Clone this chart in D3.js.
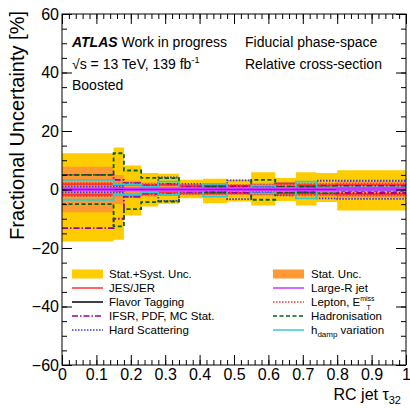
<!DOCTYPE html>
<html><head><meta charset="utf-8">
<script src="https://cdn.jsdelivr.net/npm/d3@7"></script>
<style>body{margin:0;background:#fff} text{font-family:"Liberation Sans",Arial,Helvetica,sans-serif}</style>
</head><body><svg id="c" width="410" height="408"></svg>
<script>
const binEdges = [0, 0.15, 0.18, 0.23, 0.28, 0.34, 0.41, 0.48, 0.55, 0.62, 0.68, 0.74, 0.80, 1.0];
const totalUp   = [12.4, 14.4, 8.2, 5.6, 5.4, 3.3, 3.7, 3.3, 5.9, 3.9, 5.9, 5.6, 6.6];
const totalDown = [-17.8, -17.2, -8.9, -5.8, -4.9, -3.0, -4.7, -4.1, -5.5, -3.9, -5.5, -4.3, -7.2];
const statUp    = [7.8, 5.0, 3.0, 2.4, 2.2, 1.6, 1.9, 1.8, 2.3, 2.0, 2.4, 2.4, 2.8];
const statDown  = [-7.8, -5.0, -3.0, -2.4, -2.2, -1.6, -1.9, -1.8, -2.3, -2.0, -2.4, -2.4, -2.8];
const jesUp     = [1.8, 1.5, 1.6, 1.4, 1.6, 1.2, 1.3, 1.2, 1.3, 2.1, 1.5, 1.4, 1.6];
const jesDown   = [-1.8, -1.8, -1.8, -1.3, -1.0, -1.3, -1.3, -1.2, -1.3, -1.3, -1.4, -1.4, -1.6];
const largeRUp  = [0.4, 0.5, 0.4, 0.4, 0.4, 0.4, 0.4, 0.4, 0.4, 0.4, 0.4, 0.4, 0.5];
const largeRDown= [-0.3, -0.5, -0.3, -0.3, -0.3, -0.3, -0.3, -0.3, -0.3, -0.3, -0.3, -0.3, -0.1];
const flavUp    = [0.2, 0.3, 0.2, 0.2, 0.2, 0.2, 0.2, 0.2, 0.2, 0.2, 0.2, 0.2, 0.2];
const flavDown  = [-0.2, -0.3, -0.2, -0.2, -0.2, -0.2, -0.2, -0.2, -0.2, -0.2, -0.2, -0.2, -0.2];
const lepUp     = [2.2, 2.0, 2.0, 1.8, 1.8, 1.5, 1.6, 1.5, 1.6, 1.8, 1.8, 1.8, 2.0];
const lepDown   = [-2.2, -2.0, -2.0, -1.8, -1.8, -1.5, -1.6, -1.5, -1.6, -1.8, -1.8, -1.8, -2.0];
const ifsrUp    = [5.0, 3.3, 2.2, 1.5, 1.9, 0.8, 1.0, 1.2, 1.2, 1.0, 1.0, 1.3, 1.2];
const ifsrDown  = [-13.2, -10.0, -2.4, -1.5, -1.5, -0.8, -1.0, -1.2, -1.2, -1.0, -1.0, -1.3, -1.2];
const hadUp     = [5.0, 12.4, 6.5, 4.0, 3.9, 0.5, 1.0, 0.5, 3.3, 1.0, 1.0, 0.8, 0.5];
const hadDown   = [-5.0, -12.6, -6.7, -4.3, -4.1, -0.5, -1.0, -0.5, -3.5, -1.0, -1.0, -0.8, -0.5];
const hsUp      = [1.0, 1.0, 2.2, 1.2, 4.1, 1.9, 1.0, 3.1, 1.0, 2.0, 1.0, 3.0, 3.0];
const hsDown    = [-1.0, -1.0, -2.4, -1.2, -3.9, -1.3, -1.0, -3.3, -1.0, -2.0, -1.0, -3.0, -3.2];
const hdampUp   = [3.3, 1.8, 1.7, 1.0, 2.7, 0.5, 1.9, 0.5, 1.3, 0.5, 2.7, 0.6, 0.7];
const hdampDown = [-3.5, -1.8, -1.8, -1.0, -1.8, -0.5, -2.4, -0.5, -1.3, -0.5, -3.0, -0.6, -0.3];
const xTicks = [0, 0.1, 0.2, 0.3, 0.4, 0.5, 0.6, 0.7, 0.8, 0.9, 1];
const yTicks = [-60, -40, -20, 0, 20, 40, 60];

const svg = d3.select("#c");
const L = 62, R = 406, T = 14, B = 365;
const x = d3.scaleLinear().domain([0, 1]).range([L, R]);
const y = d3.scaleLinear().domain([-60, 60]).range([B, T]);

function pts(v) {
  const p = v.map((d, i) => [binEdges[i], d]);
  p.push([binEdges[binEdges.length - 1], v[v.length - 1]]);
  return p;
}
function bandPts(lo, hi) {
  const p = lo.map((d, i) => [binEdges[i], d, hi[i]]);
  p.push([binEdges[binEdges.length - 1], lo[lo.length - 1], hi[hi.length - 1]]);
  return p;
}
const area = d3.area().curve(d3.curveStepAfter)
  .x(d => x(d[0])).y0(d => y(d[1])).y1(d => y(d[2]));
const line = d3.line().curve(d3.curveStepAfter).x(d => x(d[0])).y(d => y(d[1]));

const g = svg.append("g");
g.append("path").attr("d", area(bandPts(totalDown, totalUp))).attr("fill", "#FFCC00");
g.append("path").attr("d", area(bandPts(statDown, statUp))).attr("fill", "#FF9933");

const series = [
  {up: jesUp, dn: jesDown, color: "#FF3333", dash: null},
  {up: flavUp, dn: flavDown, color: "#000000", dash: null},
  {up: ifsrUp, dn: ifsrDown, color: "#990099", dash: "6,2,1.5,2"},
  {up: hsUp, dn: hsDown, color: "#3333FF", dash: "1.5,1.5"},
  {up: lepUp, dn: lepDown, color: "#FF3333", dash: "1.5,1.5"},
  {up: hadUp, dn: hadDown, color: "#006600", dash: "4,2.5"},
  {up: hdampUp, dn: hdampDown, color: "#33CCCC", dash: null},
  {up: largeRUp, dn: largeRDown, color: "#CC33FF", dash: null}
];
series.forEach(s => {
  [s.up, s.dn].forEach(v => {
    g.append("path").attr("d", line(pts(v))).attr("fill", "none")
      .attr("stroke", s.color).attr("stroke-width", 1.8)
      .attr("stroke-dasharray", s.dash);
  });
});

// frame
svg.append("rect").attr("x", L).attr("y", T).attr("width", R - L).attr("height", B - T)
  .attr("fill", "none").attr("stroke", "#000").attr("stroke-width", 1);

// axes
const fmtX = d => d === 0 ? "0" : d === 1 ? "1" : d3.format(".1f")(d);
svg.append("g").attr("transform", `translate(0,${B})`)
  .call(d3.axisBottom(x).tickValues(xTicks).tickFormat(fmtX).tickSizeInner(-10).tickSizeOuter(0).tickPadding(4))
  .call(a => a.select(".domain").remove())
  .call(a => a.selectAll("text").attr("font-size", 16).attr("fill", "#000").attr("font-family", "Liberation Sans, Arial, sans-serif"));
svg.append("g").attr("transform", `translate(0,${B})`)
  .call(d3.axisBottom(x).ticks(50).tickFormat("").tickSizeInner(-5).tickSizeOuter(0))
  .call(a => a.select(".domain").remove());
svg.append("g").attr("transform", `translate(0,${T})`)
  .call(d3.axisTop(x).tickValues(xTicks).tickFormat("").tickSizeInner(-10).tickSizeOuter(0))
  .call(a => a.select(".domain").remove());
svg.append("g").attr("transform", `translate(0,${T})`)
  .call(d3.axisTop(x).ticks(50).tickFormat("").tickSizeInner(-5).tickSizeOuter(0))
  .call(a => a.select(".domain").remove());

svg.append("g").attr("transform", `translate(${L},0)`)
  .call(d3.axisLeft(y).tickValues(yTicks).tickSizeInner(-10).tickSizeOuter(0).tickPadding(3))
  .call(a => a.select(".domain").remove())
  .call(a => a.selectAll("text").attr("font-size", 16).attr("fill", "#000").attr("font-family", "Liberation Sans, Arial, sans-serif"));
svg.append("g").attr("transform", `translate(${L},0)`)
  .call(d3.axisLeft(y).ticks(24).tickFormat("").tickSizeInner(-5).tickSizeOuter(0))
  .call(a => a.select(".domain").remove());
svg.append("g").attr("transform", `translate(${R},0)`)
  .call(d3.axisRight(y).tickValues(yTicks).tickFormat("").tickSizeInner(-10).tickSizeOuter(0))
  .call(a => a.select(".domain").remove());
svg.append("g").attr("transform", `translate(${R},0)`)
  .call(d3.axisRight(y).ticks(24).tickFormat("").tickSizeInner(-5).tickSizeOuter(0))
  .call(a => a.select(".domain").remove());

// axis titles
svg.append("text").attr("transform", "translate(24,11) rotate(-90)")
  .attr("text-anchor", "end").attr("font-size", 20).text("Fractional Uncertainty [%]");
const xt = svg.append("text").attr("x", 401).attr("y", 400).attr("text-anchor", "end").attr("font-size", 16);
xt.append("tspan").text("RC jet τ");
xt.append("tspan").attr("font-size", 11).attr("dy", 4).text("32");

// labels
const t1 = svg.append("text").attr("x", 72).attr("y", 47).attr("font-size", 14);
t1.append("tspan").attr("font-weight", "bold").attr("font-style", "italic").text("ATLAS");
t1.append("tspan").text(" Work in progress");
svg.append("text").attr("x", 245).attr("y", 47).attr("font-size", 14).text("Fiducial phase-space");
const t2 = svg.append("text").attr("x", 72).attr("y", 69).attr("font-size", 14);
t2.append("tspan").text("√s = 13 TeV, 139 fb");
t2.append("tspan").attr("font-size", 9).attr("dy", -6).text("-1");
svg.append("text").attr("x", 245).attr("y", 69).attr("font-size", 14).text("Relative cross-section");
svg.append("text").attr("x", 72).attr("y", 90).attr("font-size", 14).text("Boosted");

// legend
const legLeft = [
  {label: "Stat.+Syst. Unc.", fill: "#FFCC00"},
  {label: "JES/JER", color: "#FF3333"},
  {label: "Flavor Tagging", color: "#000000"},
  {label: "IFSR, PDF, MC Stat.", color: "#990099", dash: "6,2,1.5,2"},
  {label: "Hard Scattering", color: "#3333FF", dash: "1.5,1.5"}
];
const legRight = [
  {label: "Stat. Unc.", fill: "#FF9933"},
  {label: "Large-R jet", color: "#CC33FF"},
  {label: "Lepton, E", color: "#FF3333", dash: "1.5,1.5", sup: "miss", sub: "T"},
  {label: "Hadronisation", color: "#006600", dash: "4,2.5"},
  {label: "h", color: "#33CCCC", sub2: "damp", tail: " variation"}
];
function drawLeg(items, sx, tx) {
  items.forEach((it, i) => {
    const cy = 274 + i * 14;
    if (it.fill) {
      svg.append("rect").attr("x", sx).attr("y", cy - 4.5).attr("width", 31).attr("height", 9).attr("fill", it.fill);
    } else {
      svg.append("line").attr("x1", sx).attr("x2", sx + 31).attr("y1", cy).attr("y2", cy)
        .attr("stroke", it.color).attr("stroke-width", 1.5).attr("stroke-dasharray", it.dash || null);
    }
    const t = svg.append("text").attr("x", tx).attr("y", cy + 4).attr("font-size", 11.5);
    t.append("tspan").text(it.label);
    if (it.sup) {
      t.append("tspan").attr("font-size", 7).attr("dy", -5).text(it.sup);
      t.append("tspan").attr("font-size", 7).attr("x", tx + 55.5).attr("dy", 9).text(it.sub);
    }
    if (it.sub2) {
      t.append("tspan").attr("font-size", 8).attr("dy", 3).text(it.sub2);
      t.append("tspan").attr("dy", -3).text(it.tail);
    }
  });
}
drawLeg(legLeft, 72, 109);
drawLeg(legRight, 273, 311);
</script></body></html>
